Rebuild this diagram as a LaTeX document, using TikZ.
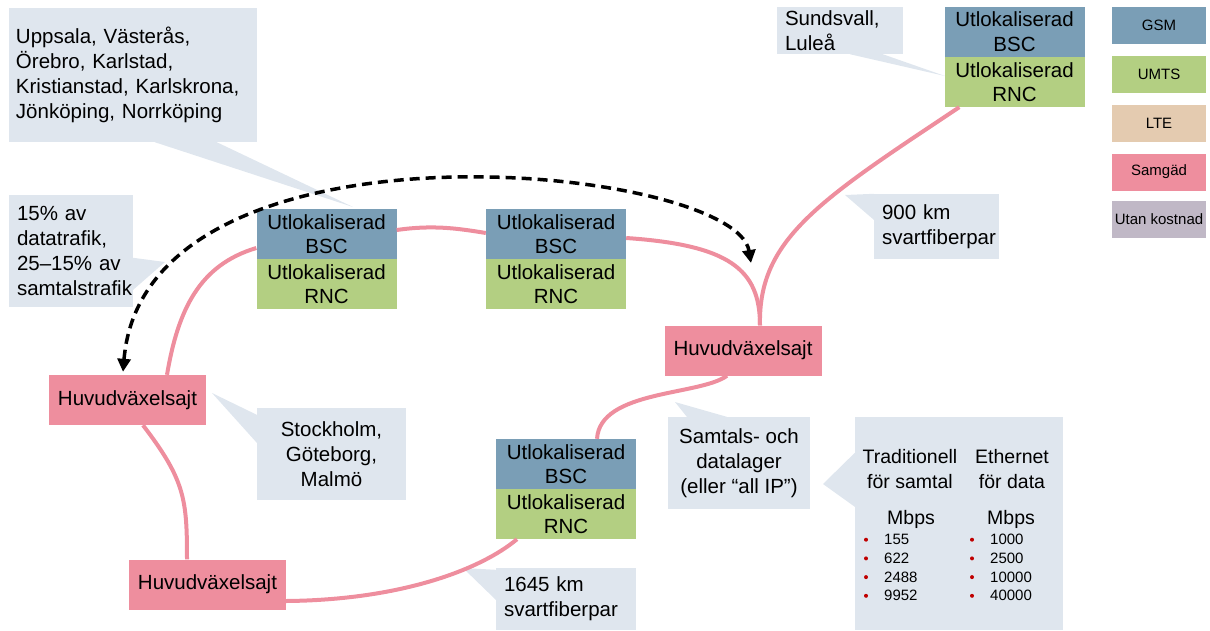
\documentclass[tikz,border=0pt]{standalone}
\usepackage{fontspec}
\setmainfont{Liberation Sans}
\usetikzlibrary{arrows.meta}
\definecolor{gsm}{HTML}{7A9EB6}
\definecolor{umts}{HTML}{B3CF82}
\definecolor{lte}{HTML}{E4CBB0}
\definecolor{samgad}{HTML}{EE8E9E}
\definecolor{utan}{HTML}{C0B8C6}
\definecolor{notebg}{HTML}{DFE6EE}
\definecolor{bulletred}{HTML}{C00000}
\tikzset{
	unit/.style 2 args={rectangle,fill=#1,minimum width=140pt,minimum height=50pt,inner sep=0pt,align=center,font=\fontsize{20.5}{24.5}\selectfont,name=#2},
	site/.style={rectangle,fill=samgad,minimum width=157pt,minimum height=50pt,inner sep=0pt,font=\fontsize{20.5}{24.5}\selectfont},
	swatch/.style 2 args={rectangle,fill=#1,minimum width=94pt,minimum height=37pt,inner sep=0pt,font=\fontsize{15}{18}\selectfont,name=#2},
	note/.style={rectangle,fill=notebg,inner ysep=0pt,font=\fontsize{20.5}{25}\selectfont},
	fiber/.style={draw=samgad,line width=4pt},
	hop/.style={draw=black,line width=3.5pt,dash pattern=on 10pt off 6pt,{Triangle[length=13pt,width=13pt]}-{Triangle[length=13pt,width=13pt]}},
	rate/.style={anchor=west,inner sep=0pt,font=\fontsize{15}{18}\selectfont}
}

\begin{document}
\begin{tikzpicture}[x=1pt,y=-1pt]
	\useasboundingbox (0, 0) rectangle (1210, 630);

	% callouts
	\node [note,text width=234pt,align=left,inner xsep=7pt,minimum height=134pt] (cities) at (133, 75) {Uppsala, Västerås,\\Örebro, Karlstad,\\Kristianstad, Karlskrona,\\Jönköping, Norrköping};
	\node [note,text width=108pt,align=left,inner xsep=8pt,minimum height=112pt] (share) at (71, 251) {15\% av\\datatrafik,\\25--15\% av\\samtalstrafik};
	\node [note,minimum width=149pt,minimum height=92pt,align=center] (towns) at (331.5, 454) {Stockholm,\\Göteborg,\\Malmö};
	\node [note,text width=110pt,align=left,inner xsep=8pt,minimum height=47pt] (north) at (840, 30.5) {Sundsvall,\\Luleå};
	\node [note,text width=109pt,align=left,inner xsep=8pt,minimum height=65pt] (dist900) at (936.5, 226.5) {900 km\\svartfiberpar};
	\node [note,minimum width=142pt,minimum height=92pt,align=center] (layer) at (739, 463) {Samtals- och\\datalager\\(eller “all IP”)};
	\node [note,text width=124pt,align=left,inner xsep=8pt,minimum height=62pt] (dist1645) at (566, 599) {1645 km\\svartfiberpar};
	\node [note,minimum width=208pt,minimum height=213pt] (rates) at (959, 523.5) {};

	\fill [notebg] ([xshift=146pt]cities.south west) -- (353, 207) -- ([xshift=208pt]cities.south west) -- cycle;
	\fill [notebg] ([yshift=-63pt]share.north east) -- (165, 262) -- ([yshift=-95pt]share.north east) -- cycle;
	\fill [notebg] ([yshift=-7pt]towns.north west) -- (212, 393) -- ([yshift=-35pt]towns.north west) -- cycle;
	\fill [notebg] ([xshift=73pt]north.south west) -- (945, 76) -- ([xshift=106pt]north.south west) -- cycle;
	\fill [notebg] (dist900.north west) -- (845, 195) -- ([yshift=-26pt]dist900.north west) -- cycle;
	\fill [notebg] ([xshift=19pt]layer.north west) -- (675, 402) -- ([xshift=59pt]layer.north west) -- cycle;
	\fill [notebg] ([yshift=-36pt]rates.north west) -- (823, 484) -- ([yshift=-90pt]rates.north west) -- cycle;
	\fill [notebg] ([yshift=-2pt]dist1645.north west) -- (463, 568) -- ([yshift=-32pt]dist1645.north west) -- cycle;

	\node [align=center,inner sep=0pt,font=\fontsize{19.5}{25}\selectfont] (tradhead) at (910, 469.5) {Traditionell\\för samtal};
	\node [align=center,inner sep=0pt,font=\fontsize{19.5}{25}\selectfont] (ethhead) at (1012, 469.5) {Ethernet\\för data};
	\node [inner sep=0pt,font=\fontsize{19.5}{25}\selectfont] (tradunit) at (911, 519) {Mbps};
	\node [inner sep=0pt,font=\fontsize{19.5}{25}\selectfont] (ethunit) at (1011, 519) {Mbps};
	\foreach \v [count=\i] in {155,622,2488,9952} {
		\fill [bulletred] (866, {521+18.7*\i}) circle (2pt);
		\node [rate] (trad\i) at (884, {521+18.7*\i}) {\v};
	}
	\foreach \v [count=\i] in {1000,2500,10000,40000} {
		\fill [bulletred] (972, {521+18.7*\i}) circle (2pt);
		\node [rate] (eth\i) at (990, {521+18.7*\i}) {\v};
	}

	% legend
	\node [swatch={gsm}{lgGSM}] at (1159, 25.5) {GSM};
	\node [swatch={umts}{lgUMTS}] at (1159, 74) {UMTS};
	\node [swatch={lte}{lgLTE}] at (1159, 123) {LTE};
	\node [swatch={samgad}{lgSam}] at (1159, 172) {Samgäd};
	\node [swatch={utan}{lgUtan}] at (1159, 219.5) {Utan kostnad};

	% BSC/RNC sites
	\node [unit={gsm}{bscN}] at (1014.5, 31.5) {Utlokaliserad\\BSC};
	\node [unit={umts}{rncN}] at (1014.5, 82) {Utlokaliserad\\RNC};
	\node [unit={gsm}{bscA}] at (326.5, 234) {Utlokaliserad\\BSC};
	\node [unit={umts}{rncA}] at (326.5, 284) {Utlokaliserad\\RNC};
	\node [unit={gsm}{bscB}] at (556, 234) {Utlokaliserad\\BSC};
	\node [unit={umts}{rncB}] at (556, 284) {Utlokaliserad\\RNC};
	\node [unit={gsm}{bscC}] at (566, 464) {Utlokaliserad\\BSC};
	\node [unit={umts}{rncC}] at (566, 514) {Utlokaliserad\\RNC};

	\node [site] (hubC) at (743, 350.5) {Huvudväxelsajt};
	\node [site] (hubW) at (127.5, 400) {Huvudväxelsajt};
	\node [site] (hubS) at (207.5, 584.5) {Huvudväxelsajt};

	% fibre
	\draw [fiber] ([xshift=15pt]rncN.south west) .. controls +(-140, 93) and +(-2, -86) .. ([xshift=17pt]hubC.north);
	\draw [fiber] ([yshift=-4pt]bscB.east) .. controls +(103, 7) and +(0, -56) .. ([xshift=17pt]hubC.north);
	\draw [fiber] ([yshift=4pt]bscA.east) .. controls +(35, -5) and +(-30, -5) .. ([yshift=1pt]bscB.west);
	\draw [fiber] ([yshift=-14pt]bscA.west) .. controls +(-57, 17) and +(11, -65) .. ([xshift=39.5pt]hubW.north);
	\draw [fiber] ([xshift=15.5pt]hubW.south) .. controls +(42, 55) and +(0, -60) .. ([xshift=-20.5pt]hubS.north);
	\draw [fiber] ([yshift=-16.5pt]hubS.east) .. controls +(113, -1) and +(-37, 31) .. ([xshift=-49pt]rncC.south);
	\draw [fiber] ([xshift=-16pt]hubC.south) .. controls +(-27, 20) and +(3, -49) .. ([xshift=31pt]bscC.north);

	\coordinate (hopEnd) at (751, 263);
	\draw [hop] ([xshift=-4.5pt,yshift=3pt]hubW.north) .. controls +(22, -267) and +(-16, -98) .. (hopEnd);
\end{tikzpicture}
\end{document}
